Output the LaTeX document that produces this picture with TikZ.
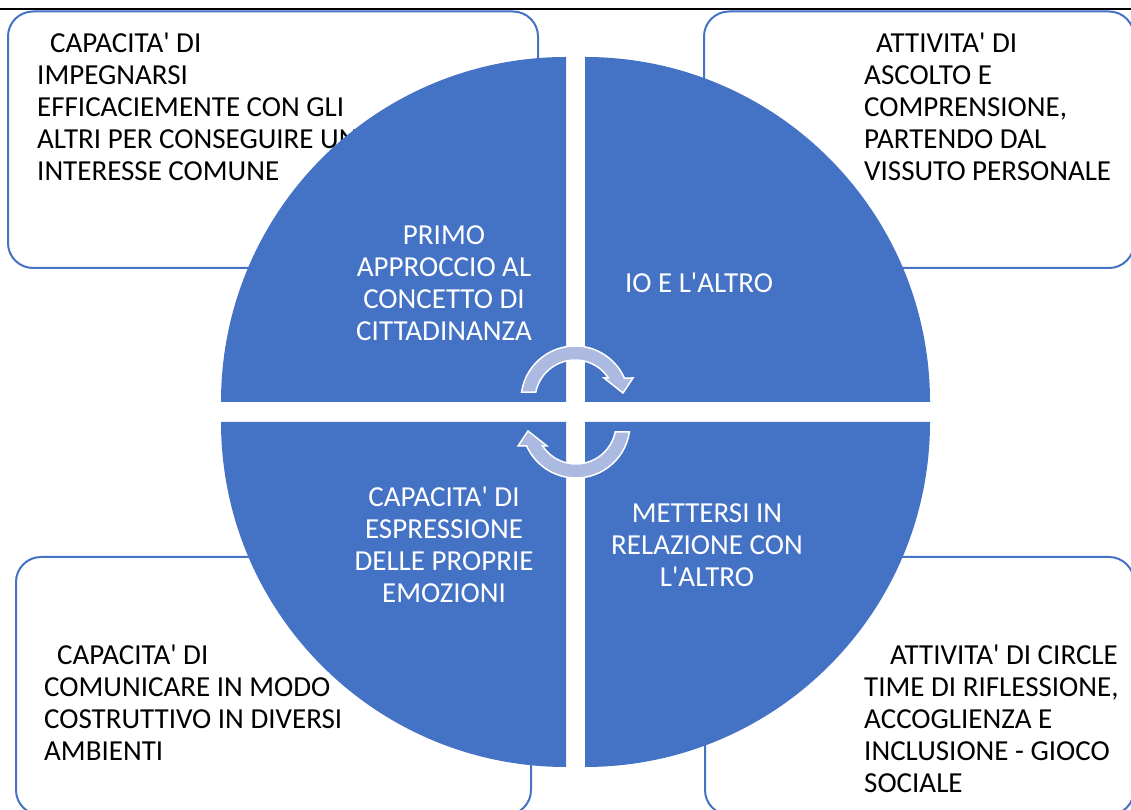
\documentclass[tikz,border=0pt]{standalone}
\usepackage{fontspec}
\setmainfont{Carlito}[Ligatures=TeXOff]
\definecolor{quadblue}{HTML}{4472C4}
\definecolor{arrowblue}{HTML}{ACB9E0}
\tikzset{
  txtbox/.style={draw=quadblue, line width=2pt, rounded corners=25pt, fill=white},
  quad/.style={fill=quadblue},
  boxlabel/.style={anchor=north west, inner sep=0pt, align=left, font=\fontsize{29}{32}\selectfont},
  quadlabel/.style={text=white, align=center, inner sep=0pt, font=\fontsize{29}{32}\selectfont},
  cycarrow/.style={fill=arrowblue, draw=white, line width=1.5pt},
  cyc/.pic={
    \filldraw[cycarrow] (171.5:54) arc (171.5:24:54) -- (58,22) -- (48,7) -- (29,22)
      -- (33.4,22) arc (33.4:168.5:40) -- cycle;
  }
}

\begin{document}
\begin{tikzpicture}[x=1pt,y=1pt]
\clip (0,0) rectangle (1131,810);
\draw[line width=2pt] (0,800.5) -- (1131,800.5);
% corner boxes
\draw[txtbox] (8,542) rectangle (538,798.5);
\draw[txtbox] (704,542) rectangle (1134,798.5);
\draw[txtbox] (16,-5) rectangle (531,253);
\draw[txtbox] (705,-5) rectangle (1134,253);
\node[boxlabel] (impegno) at (37,777) {\hspace*{13pt}CAPACITA' DI\\IMPEGNARSI\\EFFICACIEMENTE CON GLI\\ALTRI PER CONSEGUIRE UN\\INTERESSE COMUNE};
\node[boxlabel] (ascolto) at (864,777) {\hspace*{12pt}ATTIVITA' DI\\ASCOLTO E\\COMPRENSIONE,\\PARTENDO DAL\\VISSUTO PERSONALE};
\node[boxlabel] (comunica) at (44,165) {\hspace*{13pt}CAPACITA' DI\\COMUNICARE IN MODO\\COSTRUTTIVO IN DIVERSI\\AMBIENTI};
\node[boxlabel] (circle) at (864,165) {\hspace*{26pt}ATTIVITA' DI CIRCLE\\TIME DI RIFLESSIONE,\\ACCOGLIENZA E\\INCLUSIONE - GIOCO\\SOCIALE};
% quadrants
\fill[quad] (566,408) -- (221,408) arc (180:90:345) -- cycle;
\fill[quad] (585,408) -- (585,753) arc (90:0:345) -- cycle;
\fill[quad] (566,388) -- (566,43) arc (270:180:345) -- cycle;
\fill[quad] (585,388) -- (930,388) arc (0:-90:345) -- cycle;
\node[quadlabel] (primo) at (444,527) {PRIMO\\APPROCCIO AL\\CONCETTO DI\\CITTADINANZA};
\node[quadlabel] (ioaltro) at (699,527) {IO E L'ALTRO};
\node[quadlabel] (espress) at (444,265) {CAPACITA' DI\\ESPRESSIONE\\DELLE PROPRIE\\EMOZIONI};
\node[quadlabel] (relaz) at (707,265) {METTERSI IN\\RELAZIONE CON\\L'ALTRO};
% cycle arrows
\pic at (575,410) {cyc};
\pic[rotate=180] at (576,386) {cyc};
\end{tikzpicture}
\end{document}
